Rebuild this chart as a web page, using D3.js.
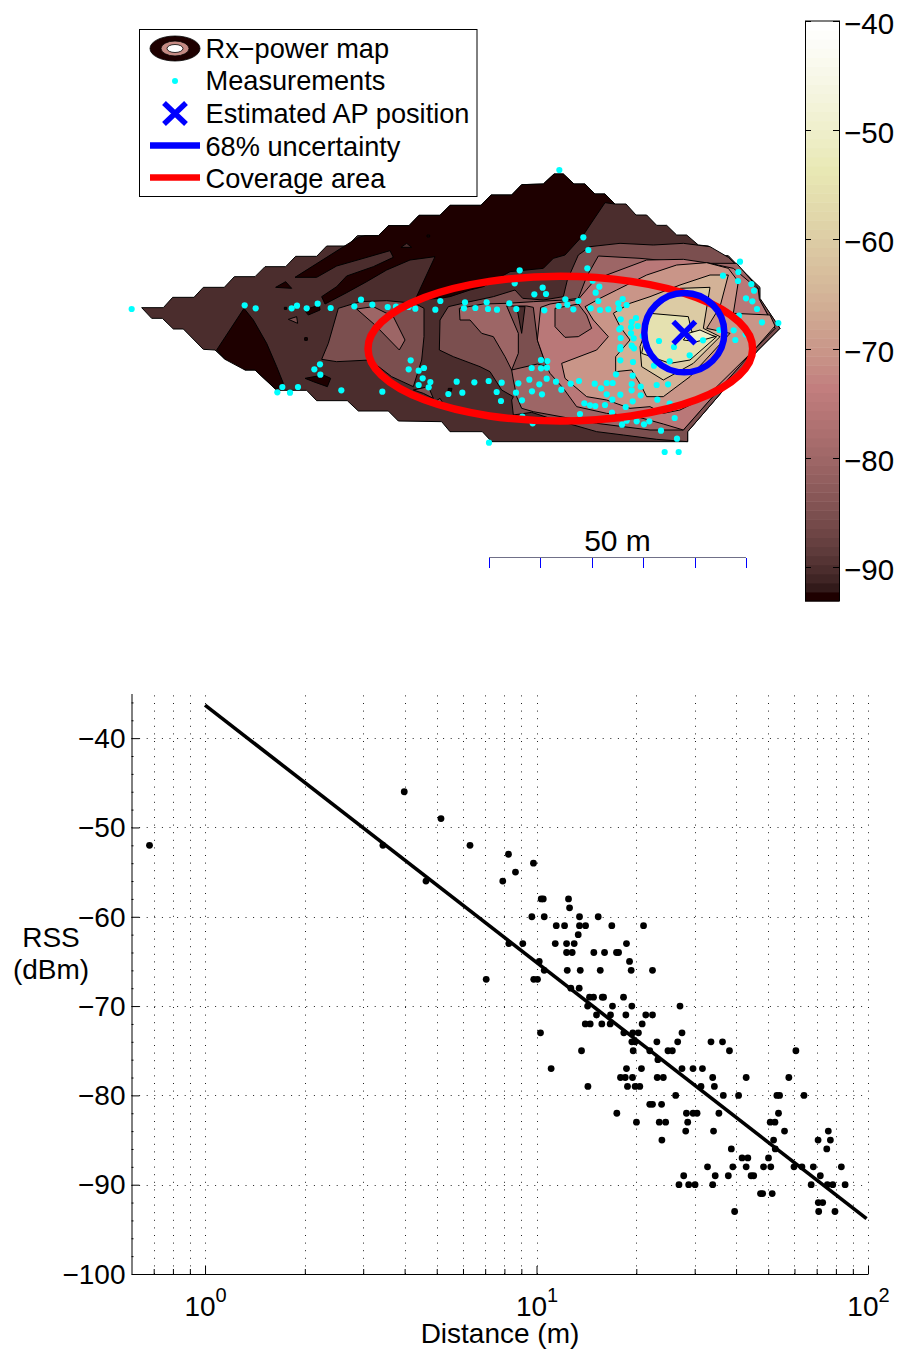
<!DOCTYPE html>
<html>
<head>
<meta charset="utf-8">
<script src="https://d3js.org/d3.v7.min.js"></script>
<style>
  body { margin: 0; background: #fff; }
  text { font-family: "Liberation Sans", sans-serif; fill: #000; }
</style>
</head>
<body>
<div id="chart"></div>
<script>
// ---- data: power map (map units, 771 units = 50 m) ----
var hull = [[-925,323],[-860,323],[-832,292],[-768,292],[-740,262],[-677,262],[-647,230],[-585,230],[-555,200],[-493,200],[-463,169],[-400,169],[-370,138],[-308,138],[-278,107],[-215,107],[-185,77],[-123,77],[-93,46],[-30,46],[0,16],[93,16],[123,-15],[185,-15],[215,-46],[280,-48],[312,-78],[340,-78],[372,-48],[405,-48],[435,-18],[465,-18],[495,12],[528,12],[558,45],[590,45],[620,76],[650,76],[680,105],[710,105],[745,135],[775,138],[805,167],[835,167],[865,198],[895,228],[925,262],[928,295],[990,385],[920,455],[713,695],[713,725],[125,725],[97,695],[0,695],[-25,665],[-155,663],[-185,633],[-275,633],[-308,602],[-400,602],[-430,571],[-520,571],[-585,510],[-615,510],[-645,478],[-675,478],[-705,450],[-740,448],[-800,387],[-830,387],[-863,355],[-895,355]];
var darkMain = [[-465,232],[-275,112],[-255,107],[-215,107],[-185,77],[-123,77],[-93,46],[-30,46],[0,16],[93,16],[123,-15],[185,-15],[215,-46],[280,-48],[312,-78],[340,-78],[372,-48],[405,-48],[435,-18],[465,-18],[495,12],[465,8],[430,60],[400,105],[345,165],[310,175],[280,205],[180,215],[100,260],[60,270],[0,290],[-30,295],[-105,300],[-45,170],[-120,180],[-190,210],[-250,245],[-310,278],[-375,312],[-385,290],[-340,260],[-310,228],[-230,200],[-170,172],[-180,152],[-270,178],[-340,198],[-400,232]];
var darkLeft = [[-618,325],[-700,450],[-675,478],[-615,510],[-585,510],[-520,570],[-500,550],[-520,500],[-550,430],[-590,360]];
var darkA = [[-523,262],[-493,245],[-475,265]];
var darkB = [[-437,330],[-392,315],[-390,330],[-425,345]];
var darkC = [[-435,535],[-380,525],[-358,535],[-368,560],[-410,545]];
var darkD = [[-436,413],[-428,413],[-428,421],[-436,421]];
var darkE = [[-497,322],[-490,322],[-490,328],[-497,328]];
var darkF = [[-69,105],[-61,105],[-61,111],[-69,111]];
var darkG = [[-5,565],[6,565],[4,574],[-6,574]];
var islandDark = [[-147,142],[-130,130],[-115,142]];
var patchA = [[-485,358],[-460,350],[-457,370]];
var patchB = [[-335,325],[-270,305],[-190,302],[-105,310],[-78,325],[-78,410],[-85,480],[-110,560],[-175,530],[-240,480],[-340,485],[-385,478],[-365,430]];
var patchB2 = [[-280,327],[-230,320],[-170,350],[-135,420],[-152,450],[-225,375]];
var patchC = [[-110,570],[-65,560],[-50,595],[-80,580]];
var patchD = [[-45,605],[-30,595],[-22,608]];
var main85 = [[-5,320],[60,305],[130,290],[195,270],[218,295],[280,300],[340,290],[352,240],[385,165],[420,140],[510,130],[610,135],[700,130],[780,140],[835,172],[930,262],[930,295],[990,385],[920,455],[713,695],[713,725],[620,718],[520,705],[440,695],[360,672],[300,655],[245,637],[190,645],[185,600],[190,590],[155,570],[120,515],[90,500],[10,470],[-32,450],[-30,360]];
var main80 = [[28,325],[100,312],[170,310],[250,305],[345,300],[385,295],[410,230],[445,168],[570,175],[680,185],[780,190],[860,190],[925,265],[928,298],[975,385],[910,450],[700,690],[600,690],[440,670],[360,655],[250,635],[215,625],[200,590],[190,540],[185,510],[165,470],[130,410],[95,400],[60,360],[30,360]];
var band85 = [[170,318],[205,400],[205,460],[185,510],[262,492],[290,500],[262,420],[250,322],[230,318]];
var notch = [[200,320],[215,400],[225,320]];
var main75 = [[272,322],[300,312],[345,305],[385,298],[430,245],[470,225],[590,180],[700,178],[780,190],[850,205],[925,268],[928,298],[975,385],[912,450],[700,690],[640,672],[560,650],[470,640],[380,620],[340,565],[300,520],[290,500],[262,420]];
var hole80 = [[315,325],[315,380],[345,412],[385,410],[425,385],[410,345],[385,312]];
var main70 = [[405,320],[450,295],[500,270],[590,225],[680,195],[770,188],[835,205],[865,245],[850,340],[960,345],[975,378],[912,450],[770,590],[690,630],[640,640],[600,620],[540,625],[470,600],[410,590],[345,535],[335,490],[440,450],[475,410],[430,360]];
var main65 = [[490,340],[540,310],[600,290],[690,255],[780,225],[835,225],[810,320],[770,385],[840,400],[720,530],[640,590],[590,590],[575,560],[545,510],[497,515],[497,470],[540,420],[510,380]];
var main60 = [[570,440],[610,330],[690,265],[780,262],[760,385],[810,410],[730,490],[640,540],[575,500]];
var main55 = [[575,460],[600,340],[715,350],[725,395],[800,410],[720,480],[660,490]];
var main50 = [[715,400],[750,390],[795,410],[740,425],[700,420]];

// painted in this order, [level in dBm, outline]
var contourLayers = [[-90,hull],[-85,patchB],[-80,patchB2],[-85,patchA],[-85,patchC],[-85,patchD],[-93,darkMain],[-90,islandDark],[-93,darkLeft],[-93,darkA],[-93,darkB],[-93,darkC],[-93,darkD],[-93,darkE],[-93,darkF],[-93,darkG],[-85,main85],[-80,main80],[-85,band85],[-90,notch],[-75,main75],[-80,hole80],[-70,main70],[-65,main65],[-60,main60],[-55,main55],[-50,main50]];

var measurements = [[-955,327],[-616,316],[-583,325],[-475,325],[-459,317],[-430,325],[-397,311],[-358,324],[-287,319],[-267,299],[-233,314],[-187,321],[-162,320],[-124,321],[-104,326],[-44,329],[-29,303],[45,307],[42,325],[-118,481],[-124,508],[-94,512],[-78,504],[-82,535],[-59,546],[-94,555],[-64,562],[20,545],[-5,582],[37,578],[-390,493],[-407,508],[-389,524],[-503,561],[-456,561],[-518,577],[-480,578],[-326,571],[-203,575],
[328,-90],[400,112],[415,150],[412,205],[209,211],[194,250],[278,263],[288,282],[253,283],[428,242],[448,260],[437,278],[445,303],[385,303],[346,298],[352,314],[370,328],[326,318],[283,331],[199,327],[178,310],[141,329],[114,327],[110,307],[76,324],
[518,297],[530,315],[505,310],[507,326],[475,328],[450,330],[422,325],[512,358],[558,354],[545,366],[563,378],[543,382],[512,384],[508,388],[543,400],[551,415],[512,414],[578,408],[627,423],[672,441],[759,421],[545,437],[552,445],[511,441],[511,448],[719,466],[659,484],[612,497],[549,486],[511,481],
[870,185],[865,216],[819,227],[864,243],[904,252],[912,272],[888,295],[907,304],[921,327],[867,347],[936,367],[985,369],[851,391],[808,390],[856,420],[887,403],
[273,480],[292,483],[245,504],[273,505],[291,503],[290,536],[238,539],[268,553],[205,550],[155,548],[116,543],[73,547],[140,576],[198,578],[246,574],[276,583],[318,545],[334,569],[362,551],[387,543],[153,603],[216,601],
[434,551],[453,565],[470,549],[488,549],[498,523],[548,527],[545,552],[572,560],[620,555],[654,553],[545,571],[572,586],[511,584],[470,583],[487,599],[548,604],[622,599],[659,611],[403,610],[420,616],[436,618],[465,615],[527,621],[486,638],[390,642],[217,650],[248,670],[516,674],[530,662],[560,664],[582,673],[598,664],[674,654],[633,692],[681,716],[644,756],[686,756],[117,728]];

var apPosition = [703,398];
var uncertaintyRadius = [120,119];
var coverageCentre = [331,446];
var coverageRadius = [577,217];

var colorbarTicks = [-40,-50,-60,-70,-80,-90];

// ---- data: path loss scatter, [distance m, RSS dBm] ----
var scatter = [[0.68,-52],[3.44,-52],[3.99,-46],[4.64,-56],[5.15,-49],[6.3,-52],[7.05,-67],[7.91,-56],[8.23,-53],[8.64,-55],[9.79,-54],
[10.33,-58],[10.48,-58],[12.49,-58],[12.58,-59],[9.68,-60],[10.55,-60],[13.48,-60],[15.35,-60],[11.47,-61],[12.15,-61],[13.48,-61],[14.06,-61],[16.87,-61],[21.03,-61],[13.36,-62],
[8.25,-63],[9.09,-63],[11.39,-63],[12.32,-63],[12.99,-63],[18.68,-63],[12.32,-64],[12.81,-64],[14.89,-64],[16.04,-64],[17.43,-64],[17.68,-64],[10.19,-65],[19.08,-65],
[10.55,-66],[12.38,-66],[13.55,-66],[15.57,-66],[19.3,-66],[22.38,-66],[9.81,-67],[10.07,-67],[12.69,-68],[13.45,-68],[14.45,-69],[14.86,-69],[15.79,-69],[15.93,-69],[18.3,-69],
[14.26,-70],[16.95,-70],[19.39,-70],[27.09,-70],[15.17,-71],[16.72,-71],[18.6,-71],[21.36,-71],[22.38,-71],[14.03,-72],[14.52,-72],[15.74,-72],[16.68,-72],[20.83,-72],
[10.28,-73],[18.34,-73],[19.52,-73],[20.3,-73],[27.47,-73],[19.39,-74],[19.84,-74],[23.07,-74],[26.66,-74],[33.6,-74],[36.4,-74],[13.67,-75],[19.57,-75],[21.96,-75],[24.92,-75],[25.69,-75],[38.2,-75],[60.6,-75],
[23.23,-76],[11.07,-77],[18.68,-77],[20.73,-77],[27.47,-77],[29.66,-77],[31.66,-77],[17.92,-78],[18.52,-78],[19.48,-78],[23.13,-78],[24.13,-78],[34,-78],[42.9,-78],[57.7,-78],
[14.29,-79],[18.81,-79],[19.84,-79],[20.49,-79],[31.35,-79],[34.4,-79],[26.29,-80],[36.6,-80],[40.7,-80],[53.1,-80],[54.1,-80],[64.1,-80],
[21.96,-81],[22.38,-81],[23.84,-81],[17.47,-82],[28.33,-82],[29.66,-82],[30.5,-82],[35.5,-82],[53.7,-82],[20.02,-83],[23.46,-83],[24.52,-83],[28.58,-83],[50.7,-83],[52.4,-83],
[28.19,-84],[34.2,-84],[56,-84],[75.9,-84],[23.89,-85],[51.9,-85],[70.7,-85],[77,-85],[38.7,-86],[52.5,-86],[75.1,-86],[41.7,-87],[43.4,-87],[50.1,-87],
[32.8,-88],[39.1,-88],[42.9,-88],[48.4,-88],[50.9,-88],[59.8,-88],[63.2,-88],[68.4,-88],[83.1,-88],[27.8,-89],[34.6,-89],[37.9,-89],[44.4,-89],[45.2,-89],[71.8,-89],
[26.9,-90],[28.78,-90],[30.08,-90],[34,-90],[67.4,-90],[75.4,-90],[78.3,-90],[85.3,-90],[47.4,-91],[48.1,-91],[51.4,-91],[70.8,-92],[73,-92],[39.6,-93],[71,-93],[79.5,-93]];

var fitDistance = [1,99];
var fitRss = [-36.3,-93.8];

var rssTicks = [-40,-50,-60,-70,-80,-90,-100];
var rssMinor = [-36,-38,-42,-44,-46,-48,-52,-54,-56,-58,-62,-64,-66,-68,-72,-74,-76,-78,-82,-84,-86,-88,-92,-94,-96,-98];
var decadeTicks = [1,10,100];
var decadeExp = ["0","1","2"];
var minorTicks = [0.7,0.8,0.9,2,3,4,5,6,7,8,9,20,30,40,50,60,70,80,90];

var svg = d3.select("#chart").append("svg")
	.attr("width", 900)
	.attr("height", 1354)
	.style("display", "block");

// matlab pink(64)
function pinkMap(i) {
	var t = i / 63;
	var hr = Math.min(1, (i + 1) / 24),
		hg = Math.max(0, Math.min(1, (i + 1 - 24) / 24)),
		hb = Math.max(0, (i + 1 - 48) / 16);
	return d3.rgb(255 * Math.sqrt((2 * t + hr) / 3), 255 * Math.sqrt((2 * t + hg) / 3), 255 * Math.sqrt((2 * t + hb) / 3));
}

var levelMin = -93.1, levelMax = -40;
var levelIndex = d3.scaleQuantize().domain([levelMin, levelMax]).range(d3.range(64));
function levelColor(v) { return pinkMap(levelIndex(v)); }

//Map scales
var mapX = d3.scaleLinear().domain([0, 771]).range([450, 707]);
var mapY = d3.scaleLinear().domain([0, 771]).range([200, 457]);
var outline = d3.line().x(function(d) { return mapX(d[0]); }).y(function(d) { return mapY(d[1]); });

var map = svg.append("g");
map.selectAll("path.contour")
	.data(contourLayers)
	.enter()
	.append("path")
	.attr("class", "contour")
	.attr("d", function(d) { return outline(d[1]) + "Z"; })
	.attr("fill", function(d) { return levelColor(d[0]); })
	.attr("stroke", "#000")
	.attr("stroke-width", 1)
	.attr("stroke-linejoin", "round");

map.selectAll("circle.meas")
	.data(measurements)
	.enter()
	.append("circle")
	.attr("class", "meas")
	.attr("cx", function(d) { return mapX(d[0]); })
	.attr("cy", function(d) { return mapY(d[1]); })
	.attr("r", 3.1)
	.attr("fill", "#00ffff");

var unit = mapX(1) - mapX(0);
map.append("ellipse")
	.attr("cx", mapX(coverageCentre[0]))
	.attr("cy", mapY(coverageCentre[1]))
	.attr("rx", coverageRadius[0] * unit)
	.attr("ry", coverageRadius[1] * unit)
	.attr("fill", "none")
	.attr("stroke", "#ff0000")
	.attr("stroke-width", 7.5);
map.append("ellipse")
	.attr("cx", mapX(apPosition[0]))
	.attr("cy", mapY(apPosition[1]))
	.attr("rx", uncertaintyRadius[0] * unit)
	.attr("ry", uncertaintyRadius[1] * unit)
	.attr("fill", "none")
	.attr("stroke", "#0000ff")
	.attr("stroke-width", 6.5);
map.append("path")
	.attr("transform", "translate(" + mapX(apPosition[0]) + "," + mapY(apPosition[1]) + ")")
	.attr("d", "M-11,-11L11,11M-11,11L11,-11")
	.attr("fill", "none")
	.attr("stroke", "#0000ff")
	.attr("stroke-width", 5.5);

//Scale bar, 50 m
var barScale = d3.scaleLinear().domain([0, 50]).range([489, 489 + mapX(771) - mapX(0)]);
var bar = svg.append("g");
bar.append("line")
	.attr("x1", barScale(0)).attr("x2", barScale(50))
	.attr("y1", 557.5).attr("y2", 557.5)
	.attr("stroke", "#707088");
bar.selectAll("line.tick")
	.data(d3.range(0, 51, 10))
	.enter()
	.append("line")
	.attr("class", "tick")
	.attr("x1", function(d) { return Math.round(barScale(d)) + 0.5; })
	.attr("x2", function(d) { return Math.round(barScale(d)) + 0.5; })
	.attr("y1", 558).attr("y2", 568)
	.attr("stroke", "#0000ff");
bar.append("text")
	.attr("x", barScale(25))
	.attr("y", 551)
	.attr("text-anchor", "middle")
	.style("font-size", "30px")
	.text("50 m");

//Colorbar
var cbY = d3.scaleLinear().domain([levelMax, levelMin]).range([21, 601]);
var cb = svg.append("g");
var bandH = (cbY(levelMin) - cbY(levelMax)) / 64;
cb.selectAll("rect")
	.data(d3.range(64))
	.enter()
	.append("rect")
	.attr("x", 805)
	.attr("y", function(d) { return cbY(levelMax) + (63 - d) * bandH; })
	.attr("width", 34)
	.attr("height", bandH + 0.5)
	.attr("fill", function(d) { return pinkMap(d); });
cb.append("rect")
	.attr("x", 805.5).attr("y", 21)
	.attr("width", 34).attr("height", 580)
	.attr("fill", "none")
	.attr("stroke", "#000");
cb.selectAll("path.tk")
	.data(colorbarTicks)
	.enter()
	.append("path")
	.attr("class", "tk")
	.attr("d", function(d) { var y = Math.round(cbY(d)) + 0.5; return "M805,"+y+"h6M839,"+y+"h-6"; })
	.attr("stroke", "#000");
cb.selectAll("text")
	.data(colorbarTicks)
	.enter()
	.append("text")
	.attr("x", 844)
	.attr("y", function(d) { return cbY(d) + 13; })
	.style("font-size", "29.5px")
	.text(function(d) { return "\u2212" + Math.abs(d); });

//Legend
var legend = svg.append("g");
legend.append("rect")
	.attr("x", 139.5).attr("y", 29.5)
	.attr("width", 337.5).attr("height", 167)
	.attr("fill", "#fff")
	.attr("stroke", "#000");
var legendLabels = ["Rx\u2212power map", "Measurements", "Estimated AP position", "68% uncertainty", "Coverage area"];
var legendY = [58, 90, 123, 156, 188];
legend.selectAll("text")
	.data(legendLabels)
	.enter()
	.append("text")
	.attr("x", 205.5)
	.attr("y", function(d, i) { return legendY[i]; })
	.style("font-size", "27.2px")
	.text(function(d) { return d; });
[[25, 12.5, levelColor(-93)], [14, 7.5, levelColor(-72)], [8, 4, "#fff"]].forEach(function(e) {
	legend.append("ellipse")
		.attr("cx", 175).attr("cy", 48.5)
		.attr("rx", e[0]).attr("ry", e[1])
		.attr("fill", e[2])
		.attr("stroke", "#000")
		.attr("stroke-width", 0.8);
});
legend.append("circle").attr("cx", 175).attr("cy", 81).attr("r", 3).attr("fill", "#00ffff");
legend.append("path")
	.attr("d", "M164,103L186,124M164,124L186,103")
	.attr("stroke", "#0000ff").attr("stroke-width", 5.5);
legend.append("line").attr("x1", 150).attr("x2", 200).attr("y1", 145.5).attr("y2", 145.5)
	.attr("stroke", "#0000ff").attr("stroke-width", 6.5);
legend.append("line").attr("x1", 150).attr("x2", 200).attr("y1", 177.5).attr("y2", 177.5)
	.attr("stroke", "#ff0000").attr("stroke-width", 6.5);

//Scatter axes
var x = d3.scaleLog().domain([0.6, 100]).range([131.5, 868]);
var y = d3.scaleLinear().domain([-100, -35]).range([1274, 693.5]);

var plot = svg.append("g");
var gridV = minorTicks.concat(decadeTicks);
plot.selectAll("line.gv")
	.data(gridV)
	.enter()
	.append("line")
	.attr("class", "gv")
	.attr("x1", function(d) { return Math.round(x(d)) + 0.5; })
	.attr("x2", function(d) { return Math.round(x(d)) + 0.5; })
	.attr("y1", y(-100)).attr("y2", y(-35))
	.attr("stroke", "#222")
	.attr("stroke-dasharray", "1,6.6");
plot.selectAll("line.gh")
	.data(rssTicks.slice(0, 6))
	.enter()
	.append("line")
	.attr("class", "gh")
	.attr("x1", x.range()[0]).attr("x2", x.range()[1])
	.attr("y1", function(d) { return Math.round(y(d)) + 0.5; })
	.attr("y2", function(d) { return Math.round(y(d)) + 0.5; })
	.attr("stroke", "#222")
	.attr("stroke-dasharray", "1,6.6");

plot.selectAll("circle")
	.data(scatter)
	.enter()
	.append("circle")
	.attr("cx", function(d) { return x(d[0]); })
	.attr("cy", function(d) { return y(d[1]); })
	.attr("r", 3.4)
	.attr("fill", "#000");

var fitLine = d3.line().x(function(d) { return x(d); }).y(function(d, i) { return y(fitRss[i]); });
plot.append("path")
	.attr("d", fitLine(fitDistance))
	.attr("fill", "none")
	.attr("stroke", "#000")
	.attr("stroke-width", 3.6);

var leftAxis = plot.append("g")
	.attr("transform", "translate(131.5,0)")
	.call(d3.axisLeft(y).tickValues(rssTicks).tickSize(-8).tickSizeOuter(0).tickPadding(6));
leftAxis.selectAll("text")
	.style("font-size", "28px")
	.style("font-family", "'Liberation Sans', sans-serif")
	.attr("dy", "0.33em");
plot.append("g")
	.attr("transform", "translate(131.5,0)")
	.call(d3.axisLeft(y).tickValues(rssMinor).tickSize(-2).tickSizeOuter(0).tickFormat(""))
	.select(".domain").remove();

var bottomAxis = plot.append("g")
	.attr("transform", "translate(0,1274)")
	.call(d3.axisBottom(x).tickValues(decadeTicks).tickSize(-8).tickSizeOuter(0).tickFormat(""));
plot.append("g")
	.attr("transform", "translate(0,1274)")
	.call(d3.axisBottom(x).tickValues(minorTicks).tickSize(-5).tickSizeOuter(0).tickFormat(""))
	.select(".domain").remove();

var decadeLabel = bottomAxis.selectAll(".tick text")
	.attr("y", 42)
	.attr("dy", 0)
	.style("font-size", "28px")
	.style("font-family", "'Liberation Sans', sans-serif");
decadeLabel.append("tspan").text("10");
decadeLabel.append("tspan")
	.attr("dy", -14)
	.style("font-size", "20px")
	.text(function(d, i) { return decadeExp[i]; });

svg.append("text")
	.attr("x", 500).attr("y", 1343)
	.attr("text-anchor", "middle")
	.style("font-size", "28px")
	.text("Distance (m)");
svg.append("text")
	.attr("x", 51).attr("y", 947)
	.attr("text-anchor", "middle")
	.style("font-size", "28px")
	.text("RSS");
svg.append("text")
	.attr("x", 51).attr("y", 979)
	.attr("text-anchor", "middle")
	.style("font-size", "28px")
	.text("(dBm)");
</script>
</body>
</html>
